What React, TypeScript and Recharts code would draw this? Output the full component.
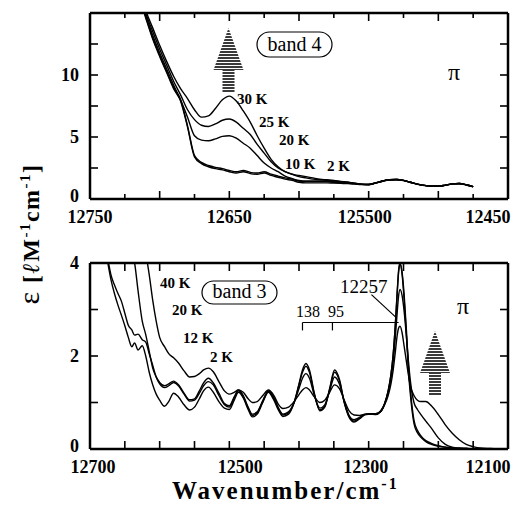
import React from 'react';
import { LineChart, Line, XAxis, YAxis, ReferenceLine } from 'recharts';

const SERIF = '"Liberation Serif", "Times New Roman", serif';

// ---- band 4 (upper panel) ----
const band4Wn = [
  12715, 12710, 12705, 12700, 12695, 12690, 12685, 12680, 12675, 12670,
  12665, 12660, 12655, 12650, 12645, 12640, 12635, 12630, 12625, 12620,
  12615, 12610, 12605, 12600, 12595, 12590, 12585, 12580, 12575, 12570,
  12565, 12560, 12555, 12550, 12545, 12540, 12535, 12530, 12525, 12520,
  12515, 12510, 12505, 12500, 12495, 12490, 12485, 12480, 12475,
];
const band4Eps30K = [
  17.0, 15.2, 13.8, 12.4, 11.1, 9.9, 8.9, 8.1, 7.2, 6.6,
  6.7, 7.3, 8.0, 8.3, 7.9, 7.1, 6.2, 5.1, 4.1, 3.2,
  2.6, 2.2, 2.0, 1.9, 1.8, 1.7, 1.6, 1.55, 1.5, 1.42,
  1.35, 1.27, 1.2, 1.18, 1.3, 1.45, 1.55, 1.57, 1.5, 1.35,
  1.2, 1.1, 1.05, 1.04, 1.12, 1.22, 1.25, 1.15, 1.0,
];
const band4Eps25K = [
  16.8, 15.0, 13.5, 12.1, 10.8, 9.5, 8.4, 7.2, 6.4, 5.95,
  5.85, 6.05, 6.35, 6.45, 6.2, 5.7, 5.2, 4.4, 3.7, 3.0,
  2.5, 2.2, 2.0, 1.8, 1.7, 1.6, 1.55, 1.5, 1.45, 1.4,
  1.35, 1.26, 1.19, 1.17, 1.3, 1.45, 1.55, 1.57, 1.5, 1.35,
  1.2, 1.1, 1.05, 1.04, 1.12, 1.22, 1.25, 1.15, 1.0,
];
const band4Eps20K = [
  16.6, 14.8, 13.2, 11.8, 10.5, 9.2, 8.0, 6.6, 5.1, 4.75,
  4.7, 4.85, 5.05, 5.1, 4.9, 4.5, 4.1, 3.5, 2.9, 2.5,
  2.2, 1.85, 1.65, 1.5, 1.45, 1.45, 1.45, 1.45, 1.4, 1.37,
  1.33, 1.25, 1.18, 1.17, 1.3, 1.45, 1.55, 1.57, 1.5, 1.35,
  1.2, 1.1, 1.05, 1.04, 1.12, 1.22, 1.25, 1.15, 1.0,
];
const band4Eps10K = [
  16.5, 14.7, 13.0, 11.6, 10.3, 9.0, 8.0, 5.9, 3.5, 2.95,
  2.7, 2.55, 2.45, 2.3, 2.2, 2.3, 2.15, 2.1, 2.2, 2.0,
  1.85, 1.7, 1.6, 1.45, 1.4, 1.4, 1.4, 1.4, 1.35, 1.32,
  1.28, 1.24, 1.18, 1.17, 1.3, 1.45, 1.55, 1.57, 1.5, 1.35,
  1.2, 1.1, 1.05, 1.04, 1.12, 1.22, 1.25, 1.15, 1.0,
];
const band4Eps2K = [
  16.4, 14.6, 12.9, 11.5, 10.2, 8.9, 7.9, 5.8, 3.4, 2.85,
  2.6, 2.45, 2.35, 2.2, 2.1, 2.2, 2.05, 2.0, 2.1, 1.9,
  1.75, 1.6, 1.5, 1.35, 1.3, 1.3, 1.3, 1.3, 1.28, 1.26,
  1.24, 1.2, 1.16, 1.15, 1.28, 1.43, 1.53, 1.55, 1.48, 1.33,
  1.18, 1.08, 1.03, 1.02, 1.1, 1.2, 1.23, 1.13, 0.98,
];

// ---- band 3 (lower panel) ----
const band3Wn = [
  12690, 12680, 12675, 12670, 12665, 12660, 12655, 12650, 12645, 12640,
  12636, 12631, 12625, 12620, 12615, 12610, 12605, 12600, 12593, 12587,
  12580, 12573, 12565, 12557, 12550, 12543, 12537, 12530, 12523, 12515,
  12507, 12500, 12493, 12487, 12480, 12473, 12467, 12460, 12452, 12444,
  12436, 12430, 12423, 12415, 12407, 12400, 12395, 12390, 12385, 12378,
  12370, 12363, 12356, 12349, 12342, 12335, 12328, 12321, 12313, 12305,
  12297, 12290, 12283, 12277, 12272, 12268, 12265, 12262, 12259, 12257,
  12255, 12252, 12249, 12246, 12243, 12240, 12235, 12230, 12225, 12218,
  12210, 12200, 12190, 12180, 12170, 12160, 12150, 12140, 12125, 12110, 12100,
];
const band3Eps2K = [
  5.8, 4.5, 4.05, 3.65, 3.35, 3.1, 2.88, 2.65, 2.4, 2.2,
  2.28, 2.13, 2.22, 2.0, 1.65, 1.38, 1.18, 1.05, 0.92, 1.02,
  1.2, 1.12, 0.95, 0.84, 0.9, 1.08, 1.25, 1.33, 1.22, 1.02,
  0.88, 0.85, 1.05, 1.22, 1.1, 0.85, 0.69, 0.75, 1.0, 1.22,
  1.05, 0.85, 0.7, 0.75, 1.0, 1.4, 1.7, 1.84, 1.7, 1.2,
  0.82, 0.9, 1.3, 1.7, 1.5, 1.0, 0.68, 0.58, 0.65, 0.74,
  0.75, 0.74, 0.8, 0.98, 1.25, 1.6, 2.0, 2.6, 3.4, 3.85,
  4.0, 3.75, 3.2, 2.5, 1.7, 1.15, 0.55, 0.35, 0.25, 0.16,
  0.1, 0.06, 0.04, 0.02, 0.01, 0.01, 0, 0, 0, 0, 0,
];
const band3Eps12K = [
  6.2, 4.7, 4.15, 3.75, 3.53, 3.35, 3.18, 2.92, 2.66, 2.56,
  2.45, 2.47, 2.35, 2.3, 2.05, 1.8, 1.55, 1.4, 1.32, 1.36,
  1.43, 1.36, 1.18, 1.03, 1.05, 1.2, 1.36, 1.45, 1.38, 1.15,
  0.95, 0.9, 1.1, 1.25, 1.12, 0.88, 0.72, 0.78, 1.02, 1.24,
  1.08, 0.88, 0.73, 0.78, 1.0, 1.38, 1.65, 1.78, 1.65, 1.18,
  0.84, 0.92, 1.28, 1.65, 1.47, 1.0, 0.7, 0.6, 0.66, 0.74,
  0.75, 0.75, 0.8, 0.98, 1.25, 1.6, 2.0, 2.6, 3.35, 3.8,
  3.98, 3.8, 3.3, 2.6, 1.8, 1.25, 0.62, 0.4, 0.28, 0.18,
  0.12, 0.07, 0.04, 0.02, 0.01, 0.01, 0, 0, 0, 0, 0,
];
const band3Eps20K = [
  7.0, 6.5, 6.2, 5.9, 5.6, 5.3, 5.0, 4.75, 4.5, 4.2,
  4.0, 3.4, 2.75, 2.46, 2.1, 1.74, 1.55, 1.43, 1.36, 1.4,
  1.46, 1.38, 1.2, 1.06, 1.08, 1.25, 1.42, 1.52, 1.42, 1.2,
  0.98, 0.93, 1.12, 1.27, 1.15, 0.9, 0.75, 0.8, 1.04, 1.25,
  1.1, 0.9, 0.75, 0.8, 1.0, 1.3, 1.52, 1.62, 1.52, 1.15,
  0.88, 0.95, 1.25, 1.55, 1.4, 1.02, 0.72, 0.63, 0.68, 0.75,
  0.76, 0.76, 0.82, 0.98, 1.22, 1.52, 1.85, 2.35, 2.95, 3.3,
  3.43, 3.3, 2.95, 2.45, 1.9, 1.45, 1.0, 0.85, 0.74, 0.6,
  0.45, 0.24, 0.1, 0.04, 0.02, 0.01, 0, 0, 0, 0, 0,
];
const band3Eps40K = [
  8.5, 8.0, 7.7, 7.4, 7.1, 6.8, 6.5, 6.2, 5.8, 5.4,
  5.1, 4.8, 4.45, 4.2, 3.75, 3.2, 2.75, 2.4, 2.2, 2.05,
  1.96, 1.85, 1.68, 1.55, 1.56, 1.62, 1.7, 1.74, 1.66, 1.45,
  1.25, 1.18, 1.22, 1.27, 1.22, 1.08, 1.0, 1.02, 1.15, 1.27,
  1.15, 0.97, 0.87, 0.9, 1.02, 1.17, 1.27, 1.32, 1.27, 1.12,
  1.0, 1.05, 1.22, 1.38, 1.3, 1.05, 0.82, 0.73, 0.72, 0.75,
  0.76, 0.76, 0.8, 0.95, 1.15, 1.4, 1.68, 2.05, 2.45, 2.6,
  2.64, 2.5, 2.2, 1.9, 1.6, 1.35, 1.15, 1.05, 1.02, 1.02,
  0.93, 0.74, 0.52, 0.34, 0.2, 0.1, 0.05, 0.02, 0.01, 0, 0,
];

// ---- axes ----
const band4XTicks = [12750, 12725, 12700, 12675, 12650, 12625, 12600, 12575, 12550, 12525, 12500, 12475, 12450];
const band4XLabels: Record<number, string> = { 12750: '12750', 12650: '12650', 12550: '125500', 12450: '12450' };
const band4XShift: Record<number, number> = { 12750: 0, 12650: 0, 12550: -4, 12450: -20 };
const band4YTicks = [0, 2.5, 5, 7.5, 10, 12.5, 15];
const band4YLabels: Record<number, string> = { 0: '0', 5: '5', 10: '10' };

const band3XTicks = [12700, 12650, 12600, 12550, 12500, 12450, 12400, 12350, 12300, 12250, 12200, 12150, 12100];
const band3XLabels: Record<number, string> = { 12700: '12700', 12500: '12500', 12300: '12300', 12100: '12100' };
const band3XShift: Record<number, number> = { 12700: 3, 12500: 11, 12300: -3, 12100: -20 };
const band3YTicks = [0, 1, 2, 3, 4];
const band3YLabels: Record<number, string> = { 0: '0', 2: '2', 4: '4' };

// progression marker in band 3
const originWn = 12257;
const spacings = [138, 95];
const markerEps = 2.72;

const band4Data = band4Wn.map((wn, i) => ({
  wn, k30: band4Eps30K[i], k25: band4Eps25K[i], k20: band4Eps20K[i], k10: band4Eps10K[i], k2: band4Eps2K[i],
}));
const band3Data = band3Wn.map((wn, i) => ({
  wn, k40: band3Eps40K[i], k20: band3Eps20K[i], k12: band3Eps12K[i], k2: band3Eps2K[i],
}));

const tickFont = { fontFamily: SERIF, fontWeight: 700, fontSize: 18, fill: '#000' };
const axisLine = { stroke: '#000', strokeWidth: 2.5 };

const xTick = (labels: Record<number, string>, shift: Record<number, number>, side: 'top' | 'bottom', longStep: number) =>
  (p: any) => {
    const v = p.payload.value;
    const len = Math.abs(v % longStep) < 1e-6 ? 8 : 5;
    const dir = side === 'bottom' ? -1 : 1;
    return (
      <g>
        <line x1={p.x} x2={p.x} y1={p.y} y2={p.y + dir * len} stroke="#000" strokeWidth={1.6} />
        {side === 'bottom' && labels[v] ? (
          <text x={p.x + (shift[v] ?? 0)} y={p.y + 24} textAnchor="middle" {...tickFont}>{labels[v]}</text>
        ) : null}
      </g>
    );
  };

const yTick = (labels: Record<number, string>, side: 'left' | 'right') => (p: any) => {
  const v = p.payload.value;
  const dir = side === 'left' ? 1 : -1;
  return (
    <g>
      <line x1={p.x} x2={p.x + dir * 8} y1={p.y} y2={p.y} stroke="#000" strokeWidth={1.6} />
      {side === 'left' && labels[v] ? (
        <text x={p.x - 11} y={p.y + (v === 0 ? 3 : 6)} textAnchor="end" {...tickFont}>{labels[v]}</text>
      ) : null}
    </g>
  );
};

type PanelProps = {
  data: any[];
  keys: string[];
  height: number;
  bottomAxisHeight: number;
  xDomain: [number, number];
  xTicks: number[];
  xLabels: Record<number, string>;
  xShift: Record<number, number>;
  longStep: number;
  yDomain: [number, number];
  yTicks: number[];
  yLabels: Record<number, string>;
  children?: React.ReactNode;
};

function Panel(props: PanelProps) {
  const { data, keys, height, bottomAxisHeight, xDomain, xTicks, xLabels, xShift, longStep, yDomain, yTicks, yLabels } = props;
  return (
    <LineChart width={524} height={height} data={data} margin={{ top: 0, right: 0, bottom: 0, left: 0 }}>
      <XAxis dataKey="wn" type="number" domain={xDomain} reversed allowDataOverflow ticks={xTicks} interval={0}
        height={bottomAxisHeight} tickSize={0} tickMargin={0} tickLine={false} axisLine={axisLine}
        tick={xTick(xLabels, xShift, 'bottom', longStep)} />
      <XAxis xAxisId="top" orientation="top" dataKey="wn" type="number" domain={xDomain} reversed allowDataOverflow
        ticks={xTicks} interval={0} height={13} tickSize={0} tickMargin={0} tickLine={false} axisLine={axisLine}
        tick={xTick(xLabels, xShift, 'top', longStep)} />
      <YAxis type="number" domain={yDomain} allowDataOverflow ticks={yTicks} interval={0} width={90}
        tickSize={0} tickMargin={0} tickLine={false} axisLine={axisLine} tick={yTick(yLabels, 'left')} />
      <YAxis yAxisId="r" orientation="right" type="number" domain={yDomain} allowDataOverflow ticks={yTicks}
        interval={0} width={16} tickSize={0} tickMargin={0} tickLine={false} axisLine={axisLine}
        tick={yTick(yLabels, 'right')} />
      {keys.map((k) => (
        <Line key={k} dataKey={k} type="monotone" stroke="#000" strokeWidth={1.4} dot={false}
          isAnimationActive={false} />
      ))}
      {props.children}
    </LineChart>
  );
}

const Arrow = ({ cx, top, headBase, bottom }: { cx: number; top: number; headBase: number; bottom: number }) => (
  <g>
    <polygon points={`${cx},${top} ${cx - 15},${headBase} ${cx + 15},${headBase}`} fill="url(#stripes)" />
    <rect x={cx - 6} y={headBase} width={12} height={bottom - headBase} fill="url(#stripes)" />
  </g>
);

const tLabel = { fontFamily: SERIF, fontWeight: 700, fontSize: 15, fill: '#000' };

export default function App() {
  return (
    <div style={{ position: 'absolute', left: 0, top: 0, width: 524, height: 506, background: '#fff' }}>
      <div style={{ position: 'absolute', left: 0, top: 0 }}>
        <Panel data={band4Data} keys={['k30', 'k25', 'k20', 'k10', 'k2']} height={230} bottomAxisHeight={31}
          xDomain={[12450, 12750]} xTicks={band4XTicks} xLabels={band4XLabels} xShift={band4XShift} longStep={50}
          yDomain={[0, 15]} yTicks={band4YTicks} yLabels={band4YLabels} />
      </div>
      <div style={{ position: 'absolute', left: 0, top: 250 }}>
        <Panel data={band3Data} keys={['k40', 'k20', 'k12', 'k2']} height={256} bottomAxisHeight={57}
          xDomain={[12100, 12700]} xTicks={band3XTicks} xLabels={band3XLabels} xShift={band3XShift} longStep={50}
          yDomain={[0, 4]} yTicks={band3YTicks} yLabels={band3YLabels}>
          <ReferenceLine segment={[{ x: originWn + spacings[0], y: markerEps }, { x: originWn, y: markerEps }]}
            stroke="#000" strokeWidth={1.2} />
          {spacings.map((s) => (
            <ReferenceLine key={s} segment={[{ x: originWn + s, y: markerEps }, { x: originWn + s, y: markerEps - 0.17 }]}
              stroke="#000" strokeWidth={1.2} />
          ))}
          <ReferenceLine segment={[{ x: originWn + 39, y: 3.32 }, { x: originWn + 3, y: 2.82 }]} stroke="#000" strokeWidth={1.2} />
        </Panel>
      </div>
      <svg width={524} height={506} style={{ position: 'absolute', left: 0, top: 0, pointerEvents: 'none' }}>
        <defs>
          <pattern id="stripes" width="4" height="3" patternUnits="userSpaceOnUse">
            <rect width="4" height="3" fill="#fff" />
            <rect width="4" height="2" fill="#3a3a3a" />
          </pattern>
        </defs>

        {/* upper panel annotations */}
        <Arrow cx={228.5} top={28} headBase={70} bottom={92} />
        <rect x={257} y={32} width={75} height={25} rx={12.5} fill="#fff" stroke="#000" strokeWidth={1.2} />
        <text x={294.5} y={51} textAnchor="middle" fontFamily={SERIF} fontSize={20}>band 4</text>
        <text x={237} y={104} {...tLabel}>30 K</text>
        <text x={259} y={127} {...tLabel}>25 K</text>
        <text x={279} y={145} {...tLabel}>20 K</text>
        <text x={285} y={169} {...tLabel}>10 K</text>
        <text x={327} y={171} {...tLabel}>2 K</text>
        <text x={448} y={80} fontFamily={SERIF} fontSize={24}>π</text>

        {/* lower panel annotations */}
        <rect x={202} y={281} width={75} height={23} rx={11.5} fill="#fff" stroke="#000" strokeWidth={1.2} />
        <text x={239.5} y={298} textAnchor="middle" fontFamily={SERIF} fontSize={20}>band 3</text>
        <text x={160} y={288} {...tLabel}>40 K</text>
        <text x={172} y={315} {...tLabel}>20 K</text>
        <text x={183} y={343} {...tLabel}>12 K</text>
        <text x={210} y={362} {...tLabel}>2 K</text>
        <text x={340} y={293} fontFamily={SERIF} fontSize={19}>12257</text>
        <text x={308} y={317} textAnchor="middle" fontFamily={SERIF} fontSize={16}>138</text>
        <text x={336} y={317} textAnchor="middle" fontFamily={SERIF} fontSize={16}>95</text>
        <text x={457} y={314} fontFamily={SERIF} fontSize={24}>π</text>
        <Arrow cx={435} top={331} headBase={373} bottom={395} />

        {/* axis titles */}
        <text x={172} y={499} fontFamily={SERIF} fontWeight={700} fontSize={25} letterSpacing={2}>
          Wavenumber/cm<tspan dy={-10} fontSize={16}>-1</tspan>
        </text>
        <text transform="translate(39,234) rotate(-90)" textAnchor="middle" fontFamily={SERIF} fontWeight={700}
          fontSize={24} letterSpacing={1.5}>
          <tspan fontSize={30} fontWeight={400}>ε</tspan>
          <tspan> [</tspan>
          <tspan fontStyle="italic">ℓ</tspan>
          <tspan>M</tspan>
          <tspan dy={-9} fontSize={15}>-1</tspan>
          <tspan dy={9}>cm</tspan>
          <tspan dy={-9} fontSize={15}>-1</tspan>
          <tspan dy={9}>]</tspan>
        </text>
      </svg>
    </div>
  );
}
